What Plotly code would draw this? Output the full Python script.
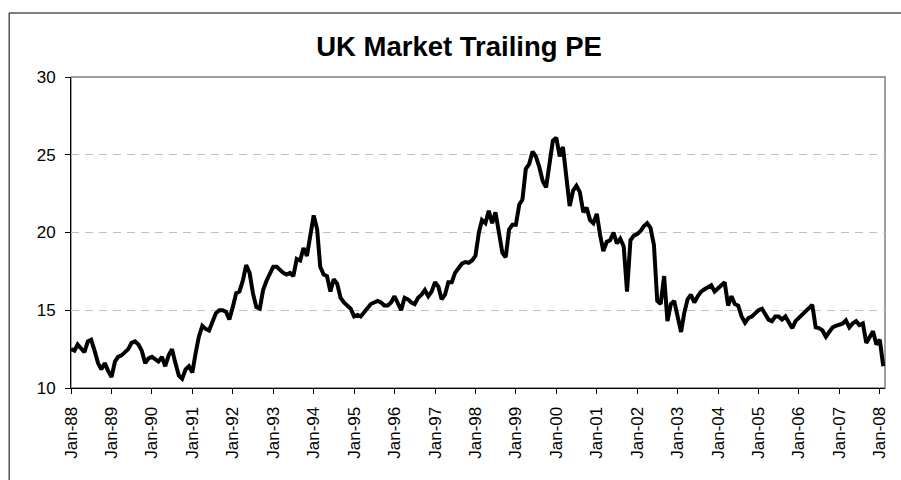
import pandas as pd
import plotly.graph_objects as go

# ---- data (trailing PE, monthly) ----
pe_1988 = [12.5, 12.4, 12.8, 12.5, 12.3, 13.0, 13.1, 12.4, 11.6, 11.2, 11.6, 11.1]
pe_1989 = [10.7, 11.7, 12.0, 12.1, 12.3, 12.5, 12.9, 13.0, 12.8, 12.4, 11.6, 11.9]
pe_1990 = [12.0, 11.8, 11.7, 12.0, 11.4, 12.1, 12.5, 11.6, 10.8, 10.6, 11.2, 11.4]
pe_1991 = [11.0, 12.3, 13.3, 14.0, 13.8, 13.7, 14.3, 14.8, 15.0, 15.0, 14.9, 14.4]
pe_1992 = [15.2, 16.1, 16.2, 16.9, 17.9, 17.4, 16.1, 15.2, 15.1, 16.3, 16.9, 17.4]
pe_1993 = [17.8, 17.8, 17.6, 17.4, 17.3, 17.4, 17.2, 18.3, 18.2, 19.0, 18.5, 19.8]
pe_1994 = [21.1, 20.2, 17.8, 17.3, 17.2, 16.2, 17.0, 16.7, 15.8, 15.5, 15.3, 15.1]
pe_1995 = [14.6, 14.7, 14.6, 14.9, 15.1, 15.4, 15.5, 15.6, 15.5, 15.3, 15.3, 15.5]
pe_1996 = [15.9, 15.5, 15.0, 15.8, 15.7, 15.5, 15.4, 15.8, 16.0, 16.3, 15.9, 16.2]
pe_1997 = [16.8, 16.5, 15.7, 16.0, 16.8, 16.8, 17.4, 17.7, 18.0, 18.1, 18.05, 18.2]
pe_1998 = [18.5, 20.0, 20.8, 20.6, 21.4, 20.6, 21.3, 20.0, 18.7, 18.4, 20.2, 20.5]
pe_1999 = [20.5, 21.8, 22.1, 24.1, 24.4, 25.2, 24.9, 24.2, 23.3, 22.9, 24.6, 25.9]
pe_2000 = [26.1, 24.9, 25.5, 23.6, 21.7, 22.7, 23.0, 22.6, 21.3, 21.6, 20.8, 20.6]
pe_2001 = [21.2, 19.8, 18.8, 19.4, 19.5, 20.0, 19.3, 19.6, 19.1, 16.2, 19.5, 19.8]
pe_2002 = [19.9, 20.1, 20.4, 20.6, 20.3, 19.2, 15.6, 15.4, 17.2, 14.3, 15.4, 15.6]
pe_2003 = [14.6, 13.6, 14.8, 15.7, 16.0, 15.5, 15.9, 16.2, 16.35, 16.5, 16.6, 16.2]
pe_2004 = [16.4, 16.6, 16.8, 15.3, 15.9, 15.4, 15.3, 14.6, 14.2, 14.5, 14.6, 14.8]
pe_2005 = [15.0, 15.1, 14.7, 14.4, 14.3, 14.6, 14.6, 14.4, 14.6, 14.2, 13.85, 14.3]
pe_2006 = [14.5, 14.7, 14.9, 15.1, 15.35, 13.9, 13.85, 13.7, 13.3, 13.6, 13.9, 14.0]
pe_2007 = [14.05, 14.15, 14.35, 13.9, 14.15, 14.3, 14.05, 14.15, 12.9, 13.3, 13.65, 12.8]
pe_2008 = [13.1, 11.4]

yearly = [pe_1988, pe_1989, pe_1990, pe_1991, pe_1992, pe_1993, pe_1994,
          pe_1995, pe_1996, pe_1997, pe_1998, pe_1999, pe_2000, pe_2001,
          pe_2002, pe_2003, pe_2004, pe_2005, pe_2006, pe_2007, pe_2008]
pe_values = [v for yr in yearly for v in yr]
months = pd.date_range("1988-01-01", periods=len(pe_values), freq="MS")

tick_dates = [f"{y}-01-01" for y in range(1988, 2009)]
tick_labels = ["Jan-88", "Jan-89", "Jan-90", "Jan-91", "Jan-92", "Jan-93", "Jan-94",
               "Jan-95", "Jan-96", "Jan-97", "Jan-98", "Jan-99", "Jan-00", "Jan-01",
               "Jan-02", "Jan-03", "Jan-04", "Jan-05", "Jan-06", "Jan-07", "Jan-08"]
y_ticks = [10, 15, 20, 25, 30]

FONT = "Liberation Sans, Arial, sans-serif"

fig = go.Figure()
fig.add_trace(go.Scatter(
    x=months, y=pe_values, mode="lines",
    line=dict(color="black", width=4),
    hoverinfo="x+y", showlegend=False,
))

L, R, T, B = 71, 14, 77, 92
W, H = 901, 480
pw, ph = W - L - R, H - T - B

bx0 = (9 - L) / pw          # outer border left edge (paper units)
bx1 = (W + 5 - L) / pw      # beyond right edge of the page
by1 = (H - B - 13) / ph     # outer border top edge
by0 = (H - B - H - 5) / ph  # beyond bottom edge of the page

fig.update_layout(
    width=W, height=H,
    margin=dict(l=L, r=R, t=T, b=B, pad=0),
    paper_bgcolor="white", plot_bgcolor="white",
    font=dict(family=FONT, color="black", size=17),
    title=dict(text="<b>UK Market Trailing PE</b>",
               font=dict(family=FONT, size=27.5, color="black"),
               x=(460 - L) / pw, xref="paper", xanchor="center",
               y=1 - 46 / H, yref="container", yanchor="middle"),
    xaxis=dict(
        type="date", range=["1988-01-01", "2008-02-17"],
        tickvals=tick_dates, ticktext=tick_labels, tickangle=-90,
        ticks="outside", ticklen=5, tickcolor="black", tickwidth=1,
        showline=True, linecolor="black", linewidth=1,
        showgrid=False, zeroline=False,
        tickfont=dict(family=FONT, size=17, color="black"),
        ticklabelstandoff=6,
    ),
    yaxis=dict(
        range=[10, 30], tickvals=y_ticks,
        ticks="outside", ticklen=5, tickcolor="black", tickwidth=1,
        showline=True, linecolor="black", linewidth=1,
        showgrid=True, gridcolor="#c0c0c0", gridwidth=1, griddash="8px,6px",
        zeroline=False,
        tickfont=dict(family=FONT, size=17, color="black"),
        ticklabelstandoff=6,
    ),
    shapes=[
        # plot area border (gray top/right)
        dict(type="rect", xref="paper", yref="paper", x0=0, y0=0, x1=1, y1=1,
             line=dict(color="#808080", width=1.5), layer="below"),
        # outer chart border: only left and top edges are inside the picture
        dict(type="line", xref="paper", yref="paper",
             x0=bx0, x1=bx0, y0=by0, y1=by1,
             line=dict(color="black", width=1), layer="below"),
        dict(type="line", xref="paper", yref="paper",
             x0=bx0, x1=bx1, y0=by1, y1=by1,
             line=dict(color="black", width=1), layer="below"),
    ],
)

fig.write_html("out.html",
               config={"displayModeBar": False},
               post_script="document.body.style.margin='0';document.body.style.overflow='hidden';")
